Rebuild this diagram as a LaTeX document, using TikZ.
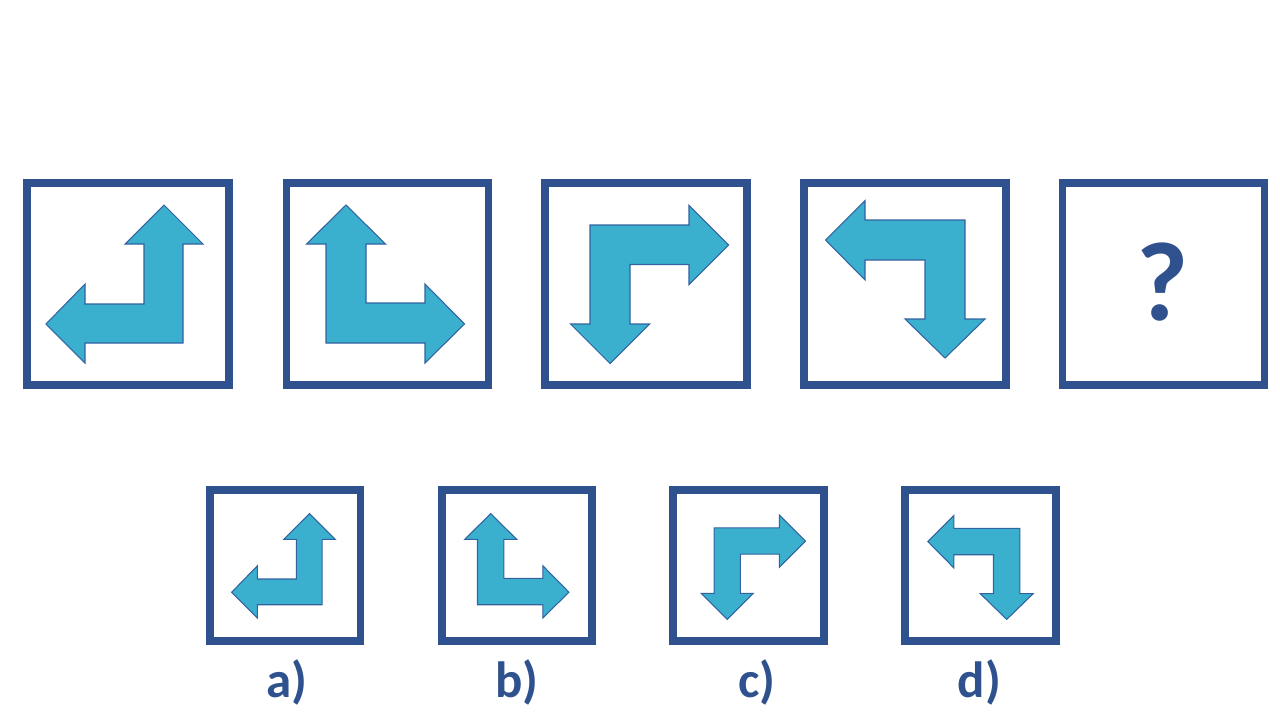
\documentclass[tikz,border=0pt]{standalone}
\usepackage{fontspec}
\setmainfont{Carlito}
\usetikzlibrary{positioning}
\definecolor{frameblue}{RGB}{47,82,143}
\definecolor{arrowfill}{RGB}{58,176,206}
\definecolor{arrowline}{RGB}{50,98,160}
\def\upleftarrow{(36,-79) -- (75,-40) -- (55,-40) -- (55,59) -- (-43,59) -- (-43,79) -- (-82,40) -- (-43,0) -- (-43,20) -- (16,20) -- (16,-40) -- (-3,-40) -- cycle}
\def\uprightarrow{(-41.5,-79) -- (-2,-40) -- (-21.5,-40) -- (-21.5,19) -- (37.5,19) -- (37.5,0) -- (77,40) -- (37.5,79) -- (37.5,59) -- (-61.5,59) -- (-61.5,-40) -- (-81,-40) -- cycle}
\def\downrightarrow{(-56,-59) -- (43,-59) -- (43,-78.5) -- (82.5,-39) -- (43,0.5) -- (43,-19.5) -- (-16,-19.5) -- (-16,40) -- (3.5,40) -- (-36,79.5) -- (-75.5,40) -- (-56,40) -- cycle}
\def\downleftarrow{(-79.5,-44) -- (-40,-83.5) -- (-40,-64) -- (60,-64) -- (60,35) -- (80,35) -- (40,74) -- (0,35) -- (20,35) -- (20,-24) -- (-40,-24) -- (-40,-4) -- cycle}

\begin{document}
\begin{tikzpicture}[x=0.02cm, y=-0.02cm,
    bigbox/.style={draw=frameblue, line width=4.5pt, minimum size=4.04cm, inner sep=0pt},
    smallbox/.style={draw=frameblue, line width=4.5pt, minimum size=3.01cm, inner sep=0pt},
    turnarrow/.style={fill=arrowfill, draw=arrowline, line width=0.6pt, line join=miter},
    answer/.style={anchor=base, text=frameblue, font=\fontsize{29}{29}\selectfont\bfseries}]
    \useasboundingbox (0,0) rectangle (1280,720);
    % sequence
    \node[bigbox] (s1) at (128,284) {};
    \node[bigbox] (s2) at (387.5,284) {};
    \node[bigbox] (s3) at (646,284) {};
    \node[bigbox] (s4) at (905,284) {};
    \node[bigbox] (s5) at (1163.5,284) {};
    \begin{scope}[shift={(128,284)}]
        \filldraw[turnarrow] \upleftarrow;
    \end{scope}
    \begin{scope}[shift={(387.5,284)}]
        \filldraw[turnarrow] \uprightarrow;
    \end{scope}
    \begin{scope}[shift={(646,284)}]
        \filldraw[turnarrow] \downrightarrow;
    \end{scope}
    \begin{scope}[shift={(905,284)}]
        \filldraw[turnarrow] \downleftarrow;
    \end{scope}
    \node[anchor=base, text=frameblue, font=\fontsize{64}{64}\selectfont\bfseries] (mark) at (1163,320) {?};
    % answers
    \node[smallbox] (a) at (285.3,565.4) {};
    \node[smallbox] (b) at (516.8,565.4) {};
    \node[smallbox] (c) at (748.5,565.4) {};
    \node[smallbox] (d) at (980.3,565.4) {};
    \begin{scope}[shift={(285.8,565.8)}, scale=0.66]
        \filldraw[turnarrow] \upleftarrow;
    \end{scope}
    \begin{scope}[shift={(518.1,565.8)}, scale=0.66]
        \filldraw[turnarrow] \uprightarrow;
    \end{scope}
    \begin{scope}[shift={(751,566.9)}, scale=0.66]
        \filldraw[turnarrow] \downrightarrow;
    \end{scope}
    \begin{scope}[shift={(980.3,570.6)}, scale=0.66]
        \filldraw[turnarrow] \downleftarrow;
    \end{scope}
    \node[answer] (la) at (287,697) {a)};
    \node[answer] (lb) at (516.7,697) {b)};
    \node[answer] (lc) at (757,697) {c)};
    \node[answer] (ld) at (979.5,697) {d)};
\end{tikzpicture}
\end{document}
